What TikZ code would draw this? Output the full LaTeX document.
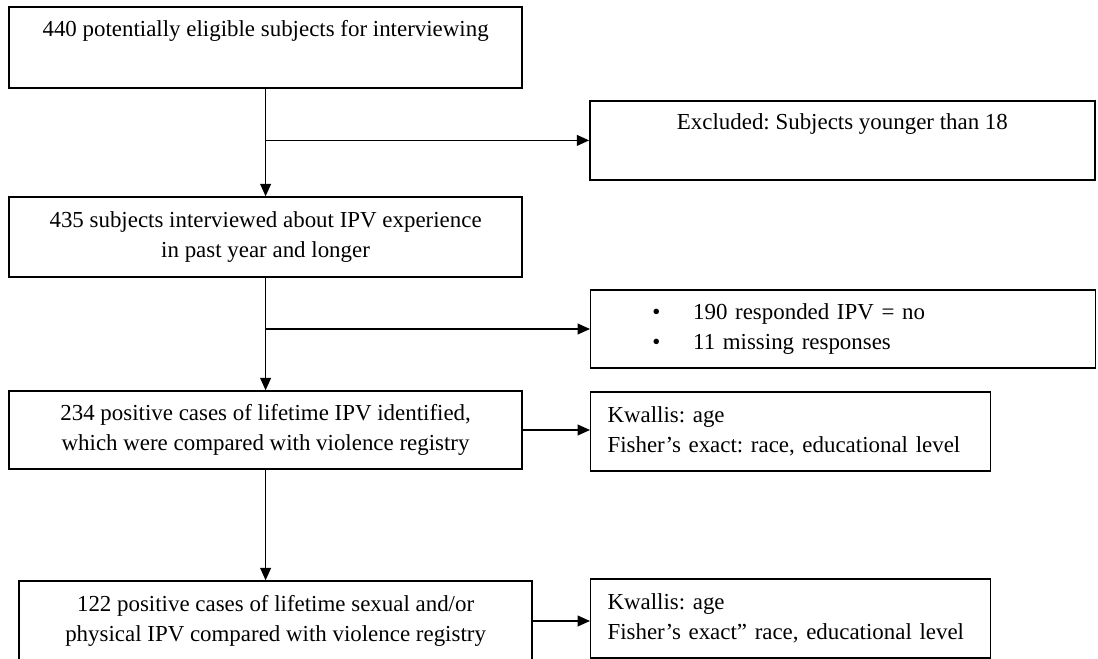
\documentclass[tikz,border=0pt]{standalone}
\usepackage{fontspec}
\setmainfont{Liberation Serif}
\usetikzlibrary{positioning}
\usetikzlibrary{arrows.meta}

\begin{document}
\frenchspacing
\begin{tikzpicture}[
  box/.style={draw,line width=1.05pt,align=center,inner sep=0pt,
    font=\fontsize{16.3}{21}\selectfont},
  sidebox/.style={draw,line width=1.05pt,align=left,inner xsep=0.42cm,inner ysep=0pt,
    anchor=west,font=\fontsize{16.3}{21.5}\selectfont},
  arr/.style={line width=1.05pt,-{Triangle[length=0.31cm,width=0.27cm]}}
]
\useasboundingbox (0,0) rectangle (27.45,16.45);

% main column
\node[box,minimum width=12.83cm,minimum height=2.03cm] (elig) at (6.64,15.26)
  {440 potentially eligible subjects for interviewing\\ \strut};
\node[box,minimum width=12.83cm,minimum height=2cm] (interv) at (6.64,10.525)
  {435 subjects interviewed about IPV experience\\in past year and longer};
\node[box,minimum width=12.83cm,minimum height=1.95cm] (pos) at (6.64,5.7)
  {234 positive cases of lifetime IPV identified,\\which were compared with violence registry};
\node[box,minimum width=12.83cm,minimum height=2cm] (sexphys) at (6.89,0.925)
  {122 positive cases of lifetime sexual and/or\\physical IPV compared with violence registry};

% right column
\node[box,minimum width=12.625cm,minimum height=1.975cm] (excl) at (21.06,12.94)
  {Excluded: Subjects younger than 18\\ \strut};
\node[sidebox,text width=11.785cm,minimum height=1.95cm] (nores) at (14.75,8.225)
  {\hspace*{1.12cm}\textbullet\hspace{0.82cm}190 responded IPV = no\\
   \hspace*{1.12cm}\textbullet\hspace{0.82cm}11 missing responses};
\node[sidebox,text width=9.15cm,minimum height=1.975cm] (test1) at (14.75,5.66)
  {Kwallis: age\\Fisher’s exact: race, educational level};
\node[sidebox,text width=9.15cm,minimum height=1.975cm] (test2) at (14.75,0.9875)
  {Kwallis: age\\Fisher’s exact” race, educational level};

% connectors
\coordinate (br1) at (elig.south |- excl.west);
\coordinate (br2) at (interv.south |- nores.west);
\draw[arr] (elig.south) -- (interv.north);
\draw[arr] (br1) -- (excl.west);
\draw[arr] (interv.south) -- (pos.north);
\draw[arr] (br2) -- (nores.west);
\draw[arr] (pos.east) -- (pos.east -| test1.west);
\draw[arr] (pos.south) -- (pos.south |- sexphys.north);
\draw[arr] (sexphys.east) -- (sexphys.east -| test2.west);

\end{tikzpicture}
\end{document}
